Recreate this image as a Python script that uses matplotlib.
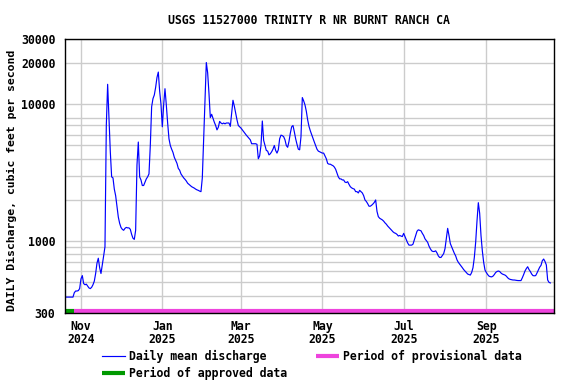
import matplotlib
matplotlib.use('Agg')
import matplotlib.pyplot as plt
import matplotlib.dates as mdates
import matplotlib.transforms as mtransforms
import numpy as np
import pandas as pd

# Daily mean discharge (cfs), one value per day starting 2024-10-20
start_date = '2024-10-20'
discharge_cfs = [
    390, 390, 390, 390, 390, 390, 390, 420, 432, 432,
    435, 450, 530, 560, 490, 480, 485, 470, 455, 450,
    460, 480, 510, 580, 690, 750, 640, 580, 670, 780,
    910, 7000, 14000, 8000, 4500, 2950, 2900, 2400, 2150, 1800,
    1500, 1350, 1260, 1220, 1200, 1240, 1260, 1250, 1250, 1220,
    1120, 1050, 1030, 1200, 3600, 5300, 2950, 2800, 2550, 2550,
    2700, 2850, 2950, 3100, 5000, 9600, 11000, 11700, 13300, 15700,
    17200, 12500, 10000, 6850, 9900, 13000, 9900, 7300, 5600, 5000,
    4700, 4450, 4100, 3900, 3700, 3400, 3300, 3100, 3000, 2900,
    2830, 2750, 2650, 2600, 2550, 2500, 2470, 2440, 2400, 2370,
    2350, 2320, 2300, 2900, 5600, 11000, 20200, 17000, 12000, 8000,
    8450, 7900, 7400, 7000, 6500, 6800, 7500, 7300, 7200, 7300,
    7200, 7300, 7300, 7300, 6900, 8600, 10700, 9700, 8600, 7700,
    7000, 6850, 6700, 6500, 6300, 6100, 5950, 5800, 5650, 5500,
    5150, 5150, 5150, 5150, 5100, 4000, 4200, 5000, 7550, 5450,
    5000, 4600, 4550, 4270, 4350, 4500, 4700, 5000, 4600, 4400,
    4650, 5600, 5950, 5900, 5800, 5500, 5000, 4850, 5350, 6150,
    6850, 7000, 6300, 5600, 5100, 4700, 4650, 5800, 11200, 10600,
    9900, 8900, 7700, 6900, 6400, 6000, 5600, 5300, 5000, 4700,
    4550, 4500, 4450, 4400, 4400, 4200, 4000, 3700, 3650, 3650,
    3600, 3560, 3480, 3350, 3150, 2950, 2850, 2850, 2800, 2800,
    2700, 2680, 2720, 2600, 2500, 2450, 2420, 2400, 2300, 2300,
    2250, 2350, 2300, 2250, 2150, 2000, 1950, 1880, 1800, 1800,
    1830, 1870, 1920, 2000, 1650, 1510, 1470, 1450, 1430, 1400,
    1360, 1330, 1290, 1260, 1230, 1200, 1170, 1150, 1140, 1120,
    1090, 1100, 1090, 1080, 1140, 1080, 1020, 970, 935, 935,
    935, 950, 1020, 1100, 1180, 1210, 1200, 1190, 1140, 1100,
    1040, 1010, 980, 920, 880, 850, 840, 840, 850, 820,
    780, 760, 760, 785, 810, 880, 1050, 1240, 1100, 960,
    910, 860, 815, 780, 730, 700, 680, 660, 640, 620,
    605, 590, 575, 570, 565, 590, 640, 760, 980, 1400,
    1910, 1600, 1100, 850, 700, 615, 590, 570, 555, 550,
    548, 555, 570, 590, 600, 605, 600, 585, 575, 570,
    565, 555, 540, 530, 525, 522, 520, 520, 518, 516,
    515, 515, 515, 540, 570, 605, 630, 650, 620, 600,
    575, 560, 558, 560, 585, 615, 645, 665, 720, 740,
    710, 670, 520, 500, 495,
]

# periods shown as coloured bars along the bottom of the plot
approved_period = ['2024-10-20 00:00', '2024-10-27 00:00']
provisional_period = ['2024-10-27 00:00', '2025-10-21 18:00']
x_limits = ['2024-10-20 00:00', '2025-10-21 18:00']

y_ticks = [300, 1000, 10000, 20000, 30000]
y_grid = [400, 500, 600, 700, 800, 900, 2000, 3000, 4000, 5000, 6000, 7000, 8000]

title = 'USGS 11527000 TRINITY R NR BURNT RANCH CA'
y_label = 'DAILY Discharge, cubic feet per second'

dates = pd.date_range(start_date, periods=len(discharge_cfs), freq='D')

mono = 'DejaVu Sans Mono'
fig = plt.figure(figsize=(5.76, 3.84), dpi=100)
ax = fig.add_axes([0.1128, 0.1857, 0.849, 0.7127])

ax.plot(dates, discharge_cfs, color='#0000ff', linewidth=0.85, label='Daily mean discharge')

# bars hugging the bottom axis line
trans = mtransforms.blended_transform_factory(ax.transData, ax.transAxes)
ap = pd.to_datetime(approved_period, format='%Y-%m-%d %H:%M')
pp = pd.to_datetime(provisional_period, format='%Y-%m-%d %H:%M')
ax.plot(pp, [0.008, 0.008], transform=trans, color='#ee44dd', linewidth=3,
        solid_capstyle='butt', label='Period of provisional data', clip_on=False)
ax.plot(ap, [0.008, 0.008], transform=trans, color='#009900', linewidth=3,
        solid_capstyle='butt', label='Period of approved data', clip_on=False)

ax.set_yscale('log')
ax.set_ylim(300, 30000)
ax.set_xlim(pd.to_datetime(x_limits, format='%Y-%m-%d %H:%M'))

ax.set_yticks(y_ticks)
ax.set_yticklabels([str(v) for v in y_ticks])
ax.set_yticks(y_grid, minor=True)
ax.yaxis.set_minor_formatter(matplotlib.ticker.NullFormatter())

ax.xaxis.set_major_locator(mdates.MonthLocator(bymonth=[1, 3, 5, 7, 9, 11]))
ax.xaxis.set_major_formatter(mdates.DateFormatter('%b\n%Y'))

ax.grid(True, which='both', color='#cccccc', linewidth=1.0)
ax.set_axisbelow(True)
ax.tick_params(which='both', length=0)
ax.tick_params(axis='y', pad=7)
ax.tick_params(axis='x', pad=5.5)
for lab in ax.get_xticklabels() + ax.get_yticklabels():
    lab.set_fontfamily(mono)
    lab.set_fontweight('bold')
    lab.set_fontsize(8.3)
for lab in ax.get_xticklabels():
    lab.set_linespacing(1.0)

for s in ax.spines.values():
    s.set_color('black')
    s.set_linewidth(1.0)

fig.text(309 / 576, 1 - 21 / 384, title, ha='center', va='center',
         fontfamily=mono, fontweight='bold', fontsize=8.3)
fig.text(12 / 576, 1 - 180 / 384, y_label, ha='center', va='center', rotation=90,
         fontfamily=mono, fontweight='bold', fontsize=8.25)

handles, labels = ax.get_legend_handles_labels()
order = [0, 2, 1]
leg = fig.legend([handles[i] for i in order], [labels[i] for i in order],
                 loc='upper left', bbox_to_anchor=(102 / 576, 1 - 350 / 384),
                 ncol=2, frameon=False, borderpad=0, borderaxespad=0,
                 handlelength=2.0, handletextpad=0.3, columnspacing=2.55,
                 labelspacing=0.35,
                 prop={'family': mono, 'weight': 'bold', 'size': 8.3})

fig.savefig('out.png', dpi=100)
